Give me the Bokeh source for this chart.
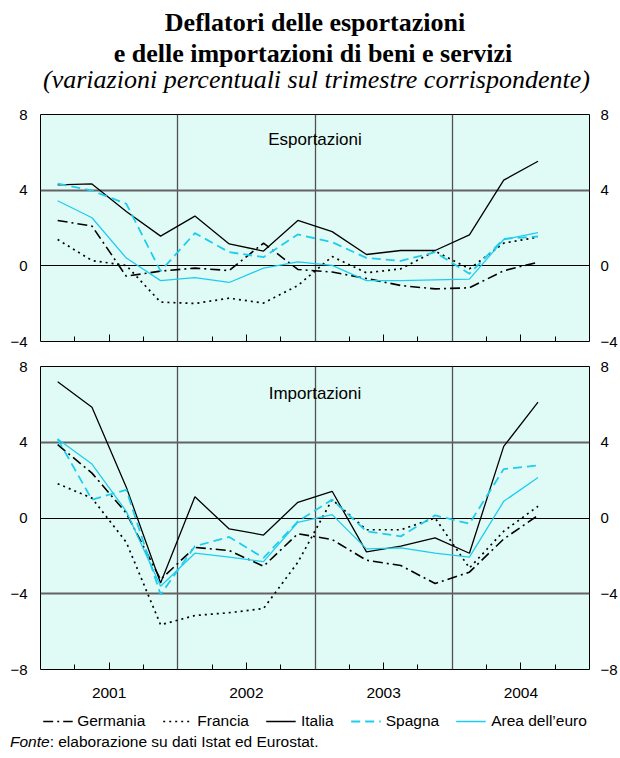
from bokeh.plotting import figure
from bokeh.models import Range1d, FixedTicker, LinearAxis, Label, Legend, LegendItem, Div, Grid
from bokeh.layouts import column
from bokeh.embed import file_html
from bokeh.resources import INLINE

# ---------------- data ----------------
years = ["2001", "2002", "2003", "2004"]
quarters = [f"{y}Q{q}" for y in years for q in range(1, 5)][:15]

series_names = ["Germania", "Francia", "Italia", "Spagna", "Area dell\u2019euro"]

exp_germania = [2.40, 2.10, -0.55, -0.28, -0.12, -0.25, 1.20, -0.19, -0.33, -0.67, -1.04, -1.22, -1.16, -0.26, 0.19]
exp_francia = [1.39, 0.28, 0.02, -1.92, -1.99, -1.71, -1.97, -1.04, 0.49, -0.37, -0.16, 0.78, -0.16, 1.20, 1.52]
exp_italia = [4.28, 4.33, 2.87, 1.57, 2.63, 1.16, 0.78, 2.40, 1.81, 0.60, 0.81, 0.81, 1.64, 4.53, 5.53]
exp_spagna = [4.35, 3.98, 3.28, -0.28, 1.73, 0.72, 0.46, 1.66, 1.25, 0.42, 0.26, 0.72, -0.42, 1.43, 1.55]
exp_area = [3.44, 2.54, 0.41, -0.78, -0.62, -0.88, -0.12, 0.21, 0.02, -0.78, -0.78, -0.74, -0.70, 1.39, 1.76]

imp_germania = [3.87, 2.37, 0.26, -3.25, -1.55, -1.72, -2.55, -0.83, -1.14, -2.23, -2.51, -3.46, -2.86, -1.11, 0.14]
imp_francia = [1.81, 1.05, -1.28, -5.64, -5.15, -5.00, -4.78, -2.34, 0.97, -0.62, -0.62, 0.00, -2.64, -0.70, 0.62]
imp_italia = [7.20, 5.85, 1.63, -3.43, 1.12, -0.58, -0.90, 0.83, 1.41, -1.79, -1.49, -1.05, -1.86, 3.78, 6.12]
imp_spagna = [4.17, 0.97, 1.49, -4.04, -1.49, -1.00, -2.11, -0.18, 0.97, -0.70, -0.97, 0.14, -0.30, 2.58, 2.78]
imp_area = [4.17, 2.85, 0.35, -3.60, -1.86, -2.07, -2.30, -0.23, 0.18, -1.63, -1.58, -1.85, -2.07, 0.88, 2.14]

exp_ticks = [-4, 0, 4, 8]
imp_ticks = [-8, -4, 0, 4, 8]

title_lines = ["Deflatori delle esportazioni", "e delle importazioni di beni e servizi"]
subtitle = "(variazioni percentuali sul trimestre corrispondente)"
source_lead = "Fonte"
source_text = ": elaborazione su dati Istat ed Eurostat."

# ---------------- styles ----------------
SANS = "Liberation Sans"
BG = "#e0fbf6"
CYAN = "#1ecdee"
W = 620
styles = [
    dict(color="black", line_width=1.6, line_dash="10 4 2 4"),
    dict(color="black", line_width=1.7, line_dash="2 4"),
    dict(color="black", line_width=1.3),
    dict(color=CYAN, line_width=1.8, line_dash="9 5"),
    dict(color=CYAN, line_width=1.3),
]

n_q = len(years) * 4
xpos = [i + 0.5 for i in range(len(quarters))]
year_centers = [4 * i + 2 for i in range(len(years))]
year_bounds = [4 * i for i in range(1, len(years))]


def make_panel(height, border_top, border_bottom, yticks, show_years):
    p = figure(width=W, height=height,
               x_range=Range1d(0, n_q), y_range=Range1d(yticks[0], yticks[-1]),
               output_backend="svg", toolbar_location=None,
               min_border_left=40, min_border_right=28,
               min_border_top=border_top, min_border_bottom=border_bottom,
               background_fill_color=BG, border_fill_color="white",
               outline_line_color="black", outline_line_width=1)
    p.yaxis.ticker = FixedTicker(ticks=yticks)
    right = LinearAxis(ticker=FixedTicker(ticks=yticks))
    p.add_layout(right, "right")
    for ax, so in ((p.yaxis[0], 13), (right, 11)):
        ax.axis_line_color = None
        ax.major_tick_line_color = None
        ax.minor_tick_line_color = None
        ax.major_tick_out = 0
        ax.major_tick_in = 0
        ax.minor_tick_out = 0
        ax.minor_tick_in = 0
        ax.major_label_standoff = so
        ax.major_label_text_font = SANS
        ax.major_label_text_font_size = "15px"
        ax.major_label_text_color = "black"
    xa = p.xaxis[0]
    xa.ticker = FixedTicker(ticks=year_centers, minor_ticks=[i for i in range(1, n_q) if i % 4 != 0])
    xa.axis_line_color = None
    xa.major_tick_in = 7
    xa.major_tick_out = 0
    xa.minor_tick_in = 5
    xa.minor_tick_out = 0
    xa.major_tick_line_color = "black"
    xa.minor_tick_line_color = "black"
    xa.major_label_text_font = SANS
    xa.major_label_text_color = "black"
    if show_years:
        xa.major_label_overrides = {c: y for c, y in zip(year_centers, years)}
        xa.major_label_text_font_size = "15.5px"
        xa.major_label_standoff = 18
    else:
        xa.major_label_overrides = {c: "" for c in year_centers}
        xa.major_label_text_font_size = "1px"
        xa.major_label_standoff = 0
    p.xgrid.ticker = FixedTicker(ticks=year_bounds)
    p.xgrid.grid_line_color = "#505050"
    p.xgrid.grid_line_width = 1.3
    p.ygrid.ticker = FixedTicker(ticks=[t for t in yticks[1:-1] if t != 0])
    p.ygrid.grid_line_color = "#636363"
    p.ygrid.grid_line_width = 1.8
    p.add_layout(Grid(dimension=1, ticker=FixedTicker(ticks=[0]),
                      grid_line_color="black", grid_line_width=1))
    return p


# ---------------- header (HTML text) ----------------
def line_div(text, top, left, width, style):
    return (f'<div style="position:absolute;left:{left}px;top:{top}px;width:{width}px;'
            f'text-align:center;white-space:nowrap;font-size:26px;line-height:26px;{style}">{text}</div>')

head_html = ('<div style="position:relative;width:620px;height:106px;'
             "font-family:'Liberation Serif',serif;color:black;\">"
             + line_div(title_lines[0], 9.9, 10, 610, "font-weight:bold;")
             + line_div(title_lines[1], 40.9, 6, 614, "font-weight:bold;")
             + line_div(subtitle, 67.2, 13, 607, "font-style:italic;")
             + "</div>")
head = Div(text=head_html, width=W, height=106, margin=0)

# ---------------- top panel ----------------
p1 = make_panel(244, 8, 9, exp_ticks, False)
for vals, st in zip([exp_germania, exp_francia, exp_italia, exp_spagna, exp_area], styles):
    p1.line(xpos, vals, **st)
p1.add_layout(Label(x=n_q / 2, y=6.66, text="Esportazioni", text_align="center",
                    text_baseline="alphabetic", text_font=SANS, text_font_size="17px",
                    text_color="black"))

# ---------------- bottom panel ----------------
p2 = make_panel(356, 16, 37, imp_ticks, True)
for vals, st in zip([imp_germania, imp_francia, imp_italia, imp_spagna, imp_area], styles):
    p2.line(xpos, vals, **st)
p2.add_layout(Label(x=n_q / 2, y=6.59, text="Importazioni", text_align="center",
                    text_baseline="alphabetic", text_font=SANS, text_font_size="17px",
                    text_color="black"))

# ---------------- legend strip (series drawn out of view, only the key shows) ----------------
leg = figure(width=W, height=29, x_range=Range1d(0, n_q), y_range=Range1d(100, 101),
             output_backend="svg", toolbar_location=None,
             min_border_left=0, min_border_right=0, min_border_top=0, min_border_bottom=0,
             background_fill_color="white", border_fill_color="white",
             outline_line_color=None, x_axis_location=None, y_axis_location=None)
leg.xgrid.visible = False
leg.ygrid.visible = False
leg_r = [leg.line(xpos, vals, **st)
         for vals, st in zip([imp_germania, imp_francia, imp_italia, imp_spagna, imp_area], styles)]
legend = Legend(items=[LegendItem(label=n, renderers=[r]) for n, r in zip(series_names, leg_r)],
                orientation="horizontal", location="center",
                glyph_width=30, glyph_height=20, label_height=20, label_standoff=5, spacing=17,
                padding=0, margin=0, border_line_color=None, background_fill_alpha=0,
                label_text_font=SANS, label_text_font_size="15.5px", label_text_color="black")
leg.add_layout(legend, "center")

# ---------------- source note (HTML text) ----------------
foot_html = ('<div style="position:relative;width:620px;height:20px;'
             "font-family:'Liberation Sans',sans-serif;font-size:15.5px;line-height:14.6px;color:black;\">"
             f'<div style="position:absolute;left:10px;top:0px;white-space:nowrap;">'
             f'<i>{source_lead}</i>{source_text}</div></div>')
foot = Div(text=foot_html, width=W, height=20, margin=0)

layout = column(head, p1, p2, leg, foot, spacing=0)

open("out.html", "w").write(file_html(layout, INLINE))
